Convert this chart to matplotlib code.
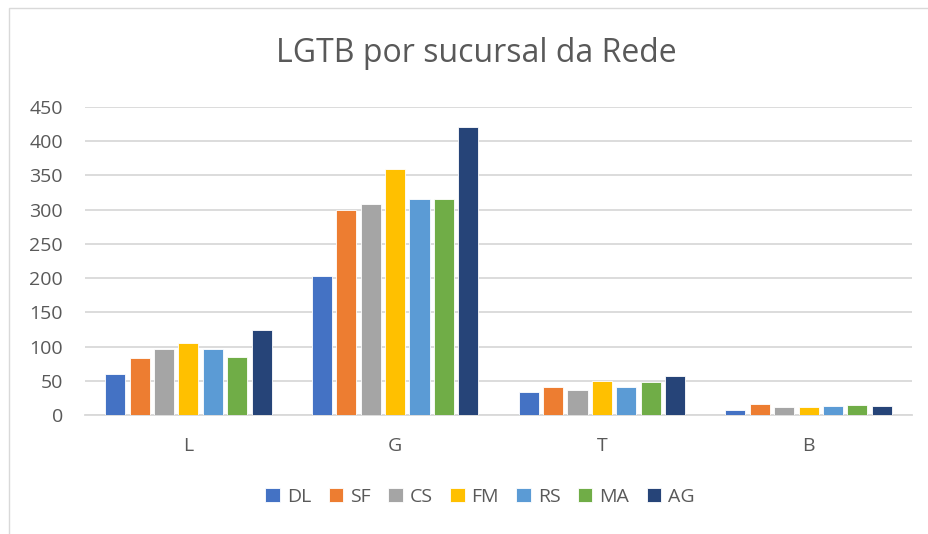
import numpy as np
import matplotlib.pyplot as plt
from matplotlib.patches import Rectangle

categories = ['L', 'G', 'T', 'B']
series = ['DL', 'SF', 'CS', 'FM', 'RS', 'MA', 'AG']
colors = ['#4472C4', '#ED7D31', '#A5A5A5', '#FFC000', '#5B9BD5', '#70AD47', '#264478']
DL = [60, 203, 34, 8]
SF = [84, 300, 41, 16]
CS = [96, 308, 36, 11]
FM = [105, 360, 49, 11]
RS = [96, 315, 41, 13]
MA = [85, 315, 48, 15]
AG = [124, 421, 57, 13]
values = [DL, SF, CS, FM, RS, MA, AG]

plt.rcParams['font.family'] = ['Open Sans', 'DejaVu Sans']
txt = '#595959'

fig = plt.figure(figsize=(9.29, 5.34), dpi=100)
fig.patches.append(Rectangle((9 / 929, -0.1), 1.2, (534 - 8) / 534 + 0.1,
                             transform=fig.transFigure, fill=False,
                             edgecolor='#d9d9d9', linewidth=1))
ax = fig.add_axes([85 / 929, (534 - 415) / 534, 827 / 929, 308 / 534])

x = np.arange(len(categories))
pitch = 0.118
width = 0.097
for i, (name, vals) in enumerate(zip(series, values)):
    ax.bar(x + (i - 3) * pitch, vals, width, color=colors[i], label=name,
           edgecolor='white', linewidth=0.6, zorder=3)

ax.set_xlim(-0.5, 3.5)
ax.set_ylim(0, 450)
ax.set_yticks(range(0, 451, 50))
ax.set_xticks(x)
ax.set_xticklabels(categories)
ax.grid(axis='y', color='#d9d9d9', linewidth=1.3, zorder=0)
for s in ['top', 'right', 'left']:
    ax.spines[s].set_visible(False)
ax.spines['bottom'].set_color('#d9d9d9')
ax.spines['bottom'].set_linewidth(1.3)
ax.tick_params(axis='both', length=0, labelsize=14, colors=txt)
ax.tick_params(axis='y', pad=16)
ax.tick_params(axis='x', pad=16)

fig.text(476 / 929, 1 - 53 / 534, 'LGTB por sucursal da Rede', ha='center', va='center',
         fontsize=23, color=txt)
fig.legend(loc='center', bbox_to_anchor=(480 / 929, 1 - 497 / 534), ncol=7, frameon=False,
           fontsize=14, labelcolor=txt, handlelength=0.75, handleheight=0.75,
           handletextpad=0.35, columnspacing=0.9)

fig.savefig('out.png', dpi=100)
